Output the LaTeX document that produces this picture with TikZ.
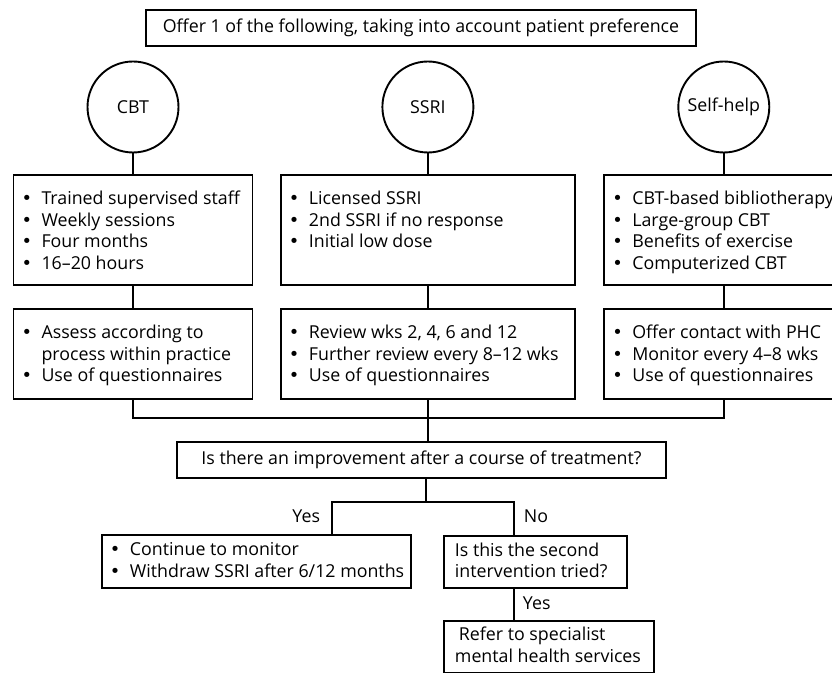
\documentclass[tikz,border=0pt]{standalone}
\usepackage{fontspec}
\setmainfont{Open Sans}
\newfontfamily\bulletfont{DejaVu Sans}
\usetikzlibrary{positioning}

\newcommand{\bitem}[1]{\makebox[14pt][l]{\hspace{4pt}{\bulletfont •}}#1}
\newcommand{\bmore}[1]{\hspace*{14pt}#1}
\newcommand{\paneltext}[4]{\parbox[c][#2][t]{#1}{\raggedright\rule{0pt}{#3}#4}}

\begin{document}
\begin{tikzpicture}
  [box/.style={draw, inner sep=0pt},
   option/.style={circle, draw, minimum size=45.5pt, inner sep=0pt},
   font=\fontsize{8.9pt}{10.75pt}\selectfont, line width=0.95pt]
  \useasboundingbox (0,0) rectangle (416pt,-336.5pt);

  \node[box, minimum width=275pt, minimum height=18pt] (offer) at (210.5pt,-14pt)
    {Offer 1 of the following, taking into account patient preference};

  % the three options
  \node[option] (cbt) at (66.5pt,-53.5pt) {CBT};
  \node[option, right=101pt of cbt] (ssri) {SSRI};
  \node[option, right=101.5pt of ssri] (selfhelp) {Self-help};

  \node[box, below=10.25pt of cbt] (cbtplan) {\paneltext{119.5pt}{55pt}{15pt}{%
    \bitem{Trained supervised staff}\\ \bitem{Weekly sessions}\\
    \bitem{Four months}\\ \bitem{16--20 hours}}};
  \node[box, below=10.25pt of ssri] (ssriplan) {\paneltext{147pt}{55pt}{15pt}{%
    \bitem{Licensed SSRI}\\ \bitem{2nd SSRI if no response}\\
    \bitem{Initial low dose}}};
  \node[box, below=10.25pt of selfhelp] (selfplan) {\paneltext{119.5pt}{55pt}{15pt}{%
    \bitem{CBT-based bibliotherapy}\\ \bitem{Large-group CBT}\\
    \bitem{Benefits of exercise}\\ \bitem{Computerized CBT}}};

  \node[box, below=11pt of cbtplan] (cbtcheck) {\paneltext{119.5pt}{45pt}{15pt}{%
    \bitem{Assess according to}\\ \bmore{process within practice}\\
    \bitem{Use of questionnaires}}};
  \node[box, below=11pt of ssriplan] (ssricheck) {\paneltext{147pt}{45pt}{15pt}{%
    \bitem{Review wks 2, 4, 6 and 12}\\ \bitem{Further review every 8--12 wks}\\
    \bitem{Use of questionnaires}}};
  \node[box, below=11pt of selfplan] (selfcheck) {\paneltext{119.5pt}{45pt}{15pt}{%
    \bitem{Offer contact with PHC}\\ \bitem{Monitor every 4--8 wks}\\
    \bitem{Use of questionnaires}}};

  \node[box, minimum width=244.5pt, minimum height=18pt] (question) at (210.75pt,-230pt)
    {Is there an improvement after a course of treatment?};

  % outcomes
  \node[box, anchor=north west] (yesbox) at (50.5pt,-267pt) {\paneltext{154.5pt}{26.5pt}{10.5pt}{%
    \bitem{Continue to monitor}\\ \bitem{Withdraw SSRI after 6/12 months}}};
  \node[box, anchor=north west] (second) at (221.5pt,-267.5pt) {\paneltext{91.5pt}{26pt}{10.25pt}{%
    \hspace*{5.5pt}Is this the second\\ \hspace*{5.5pt}intervention tried?}};
  \node[box, anchor=north west] (refer) at (221.5pt,-310pt) {\paneltext{105pt}{26pt}{10pt}{%
    \hspace*{7.5pt}Refer to specialist\\ \hspace*{5.5pt}mental health services}};

  \node[anchor=base east, inner sep=0pt] (yeslabel) at (160.5pt,-261.5pt) {Yes};
  \node[anchor=base west, inner sep=0pt] (nolabel) at (261.5pt,-261.5pt) {No};
  \node[anchor=base west, inner sep=0pt] (referlabel) at (261pt,-305pt) {Yes};

  \coordinate (bus) at (0,-209pt);
  \coordinate (fork) at (213pt,-251pt);
  \coordinate (yesturn) at (166pt,-251pt);
  \coordinate (noturn) at (257pt,-251pt);

  \draw (cbt) -- (cbtplan);
  \draw (ssri) -- (ssriplan);
  \draw (selfhelp) -- (selfplan);
  \draw (cbtplan) -- (cbtcheck);
  \draw (ssriplan) -- (ssricheck);
  \draw (selfplan) -- (selfcheck);
  \draw (cbtcheck.south) |- (bus -| selfcheck.south) -- (selfcheck.south);
  \draw (ssricheck.south) -- (ssricheck.south |- question.north);
  \draw (question.south -| fork) -- (fork);
  \draw (yesturn |- yesbox.north) -- (yesturn) -- (noturn) -- (noturn |- second.north);
  \draw (second.south -| noturn) -- (refer.north -| noturn);
\end{tikzpicture}
\end{document}
